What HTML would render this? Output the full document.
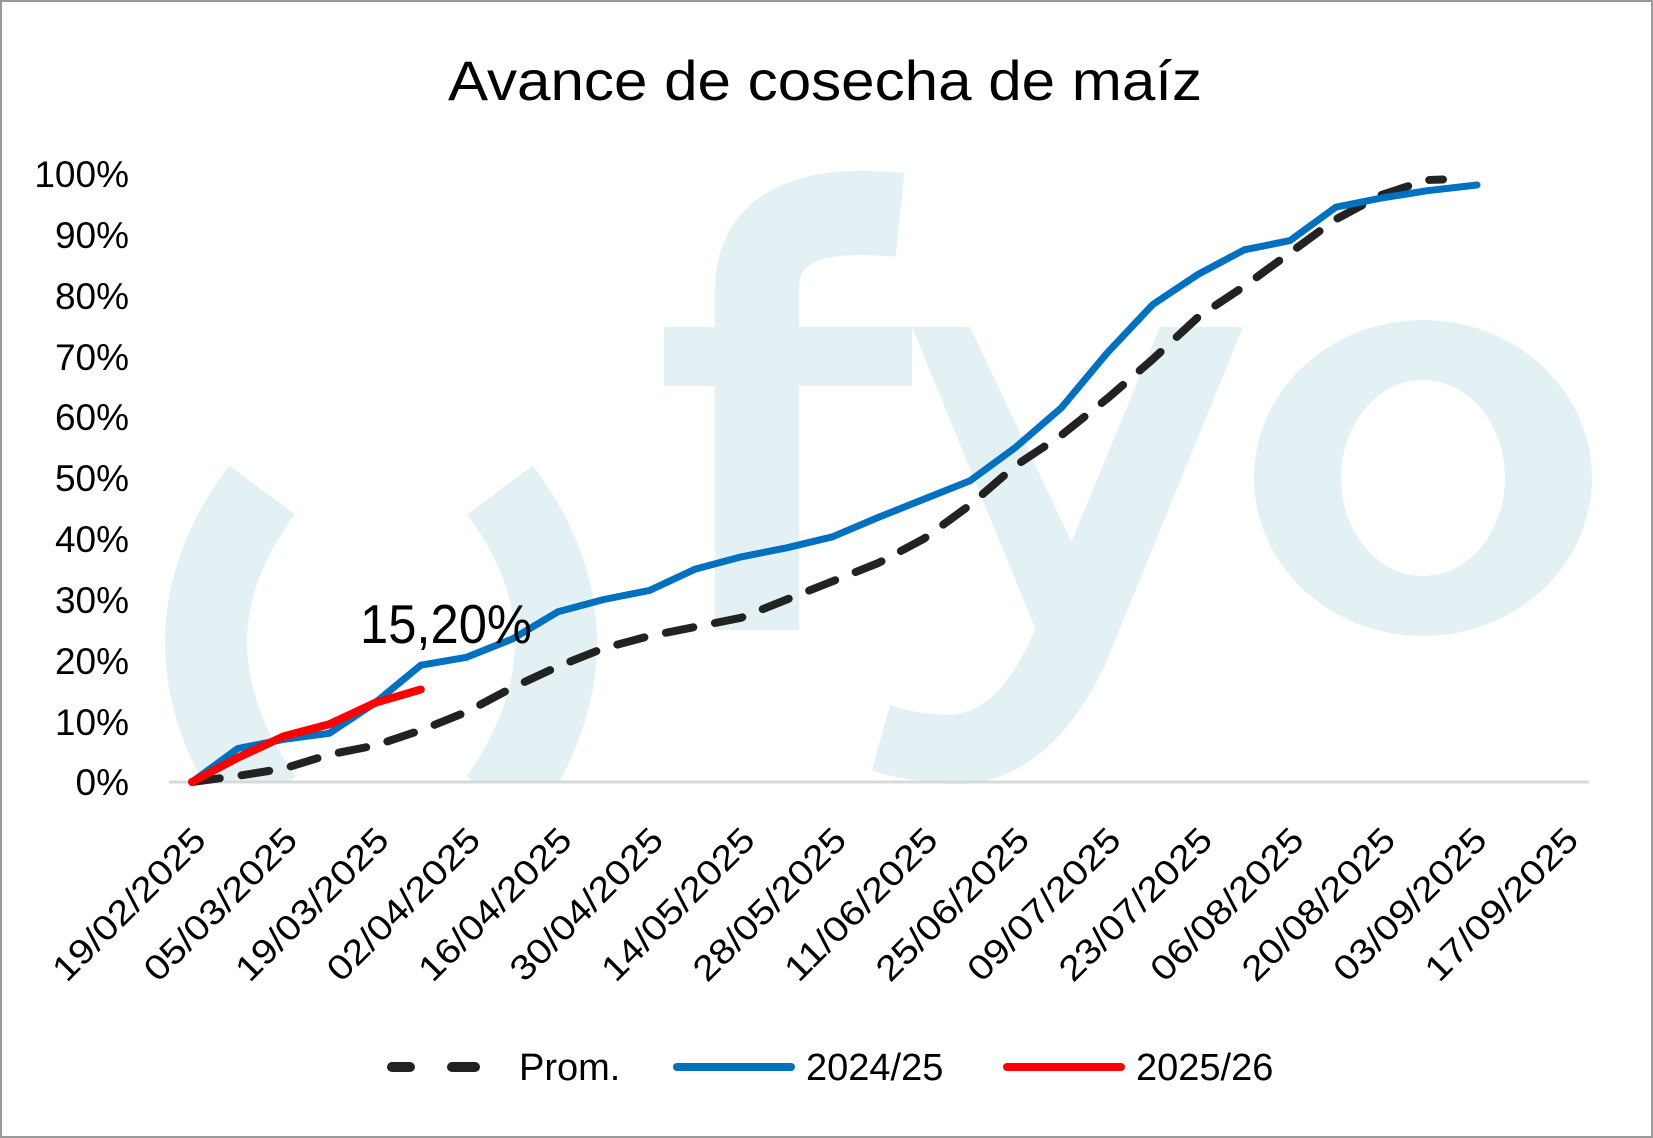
<!DOCTYPE html>
<html><head><meta charset="utf-8"><style>html,body{margin:0;padding:0;background:#fff}svg{display:block}</style></head>
<body>
<svg width="1653" height="1138" viewBox="0 0 1653 1138" xmlns="http://www.w3.org/2000/svg" font-family="Liberation Sans, sans-serif">
<defs><clipPath id="c"><rect x="0" y="0" width="1653" height="782"/></clipPath></defs>
<rect x="1" y="1" width="1651" height="1136" fill="#fff" stroke="#9a9a9a" stroke-width="2"/>
<!-- watermark -->
<g fill="none" stroke="#e3f1f5" clip-path="url(#c)">
  <path d="M 262 490 Q 150 640 262 800" stroke-width="82"/>
  <path d="M 500 490 Q 612 640 500 800" stroke-width="82"/>
  <path d="M 757 630 L 757 290 Q 757 200 900 215" stroke-width="84"/>
</g>
<g fill="#e3f1f5">
  <rect x="664" y="327" width="248" height="59"/>
  <polygon points="912,327 970,327 1080,560 1040,640"/>
  <path d="M 1160 327 L 1243 327 L 1105 665 Q 1040 800 930 782 Q 890 778 872 770 L 890 705 Q 920 715 950 715 Q 1000 712 1035 630 Z"/>
  <path fill-rule="evenodd" d="M 1254 478 A 169 158 0 1 0 1592 478 A 169 158 0 1 0 1254 478 Z M 1341 478 A 82 98 0 1 0 1505 478 A 82 98 0 1 0 1341 478 Z"/>
</g>
<!-- title -->
<text x="825" y="100" font-size="56" text-anchor="middle" textLength="754" lengthAdjust="spacingAndGlyphs" fill="#000">Avance de cosecha de maíz</text>
<!-- axis -->
<line x1="169" y1="782" x2="1589" y2="782" stroke="#d9d9d9" stroke-width="3"/>
<g font-size="37" fill="#000" text-anchor="end">
  <text x="129" y="187">100%</text>
  <text x="129" y="248">90%</text>
  <text x="129" y="309">80%</text>
  <text x="129" y="370">70%</text>
  <text x="129" y="430">60%</text>
  <text x="129" y="491">50%</text>
  <text x="129" y="552">40%</text>
  <text x="129" y="613">30%</text>
  <text x="129" y="674">20%</text>
  <text x="129" y="735">10%</text>
  <text x="129" y="795">0%</text>
</g>
<g font-size="35" fill="#000" text-anchor="end">
  <text transform="translate(208,842) rotate(-45)" textLength="200" lengthAdjust="spacingAndGlyphs">19/02/2025</text>
  <text transform="translate(299.5,842) rotate(-45)" textLength="200" lengthAdjust="spacingAndGlyphs">05/03/2025</text>
  <text transform="translate(391,842) rotate(-45)" textLength="200" lengthAdjust="spacingAndGlyphs">19/03/2025</text>
  <text transform="translate(482.5,842) rotate(-45)" textLength="200" lengthAdjust="spacingAndGlyphs">02/04/2025</text>
  <text transform="translate(574,842) rotate(-45)" textLength="200" lengthAdjust="spacingAndGlyphs">16/04/2025</text>
  <text transform="translate(665.5,842) rotate(-45)" textLength="200" lengthAdjust="spacingAndGlyphs">30/04/2025</text>
  <text transform="translate(757,842) rotate(-45)" textLength="200" lengthAdjust="spacingAndGlyphs">14/05/2025</text>
  <text transform="translate(848.5,842) rotate(-45)" textLength="200" lengthAdjust="spacingAndGlyphs">28/05/2025</text>
  <text transform="translate(940,842) rotate(-45)" textLength="200" lengthAdjust="spacingAndGlyphs">11/06/2025</text>
  <text transform="translate(1031.5,842) rotate(-45)" textLength="200" lengthAdjust="spacingAndGlyphs">25/06/2025</text>
  <text transform="translate(1123,842) rotate(-45)" textLength="200" lengthAdjust="spacingAndGlyphs">09/07/2025</text>
  <text transform="translate(1214.5,842) rotate(-45)" textLength="200" lengthAdjust="spacingAndGlyphs">23/07/2025</text>
  <text transform="translate(1306,842) rotate(-45)" textLength="200" lengthAdjust="spacingAndGlyphs">06/08/2025</text>
  <text transform="translate(1397.5,842) rotate(-45)" textLength="200" lengthAdjust="spacingAndGlyphs">20/08/2025</text>
  <text transform="translate(1489,842) rotate(-45)" textLength="200" lengthAdjust="spacingAndGlyphs">03/09/2025</text>
  <text transform="translate(1580.5,842) rotate(-45)" textLength="200" lengthAdjust="spacingAndGlyphs">17/09/2025</text>
</g>
<!-- series -->
<polyline fill="none" stroke="#222" stroke-width="8" stroke-dasharray="28 22" stroke-linecap="round" stroke-linejoin="round"
 points="192,782 237.8,775.9 283.5,768.6 329.3,754.6 375,745.5 420.8,730.3 466.5,712 512.3,687.7 558,666.4 603.8,648.2 649.5,636 695.3,626.9 741,617.8 786.8,599.5 832.5,581.3 878.3,563 924,538.7 969.8,505.2 1015.5,465.7 1061.3,435.3 1107,398.8 1152.8,359.2 1198.5,316.7 1244.3,286.3 1290,252.8 1335.8,219.3 1381.5,194.9 1427.3,180 1443,179.5"/>
<polyline fill="none" stroke="#0070c0" stroke-width="7" stroke-linejoin="round" stroke-linecap="round"
 points="192,782 237.8,748.5 283.5,739.4 329.3,733.3 375,702.9 420.8,665.2 466.5,657.3 512.3,639 558,611.7 603.8,599.5 649.5,590.4 695.3,569.1 741,556.9 786.8,547.8 832.5,536.8 878.3,517.4 924,499.1 969.8,480.9 1015.5,447.4 1061.3,407.9 1107,353.1 1152.8,304.5 1198.5,274.1 1244.3,249.8 1290,240.6 1335.8,207.2 1381.5,198 1427.3,190.7 1477,185"/>
<polyline fill="none" stroke="#ff0000" stroke-width="8" stroke-linejoin="round" stroke-linecap="round"
 points="192,782 237.8,757.7 283.5,736.4 329.3,724.2 375,702.9 420.8,689.5"/>
<text x="360" y="643" font-size="55" textLength="172" lengthAdjust="spacingAndGlyphs" fill="#000">15,20%</text>
<!-- legend -->
<line x1="392" y1="1067" x2="410" y2="1067" stroke="#222" stroke-width="10" stroke-linecap="round"/>
<line x1="452" y1="1067" x2="475" y2="1067" stroke="#222" stroke-width="10" stroke-linecap="round"/>
<text x="519" y="1080" font-size="38" fill="#000">Prom.</text>
<line x1="677" y1="1067" x2="791" y2="1067" stroke="#0070c0" stroke-width="8" stroke-linecap="round"/>
<text x="806" y="1080" font-size="38" fill="#000">2024/25</text>
<line x1="1007" y1="1067" x2="1121" y2="1067" stroke="#ff0000" stroke-width="8" stroke-linecap="round"/>
<text x="1136" y="1080" font-size="38" fill="#000">2025/26</text>
</svg>
</body></html>
